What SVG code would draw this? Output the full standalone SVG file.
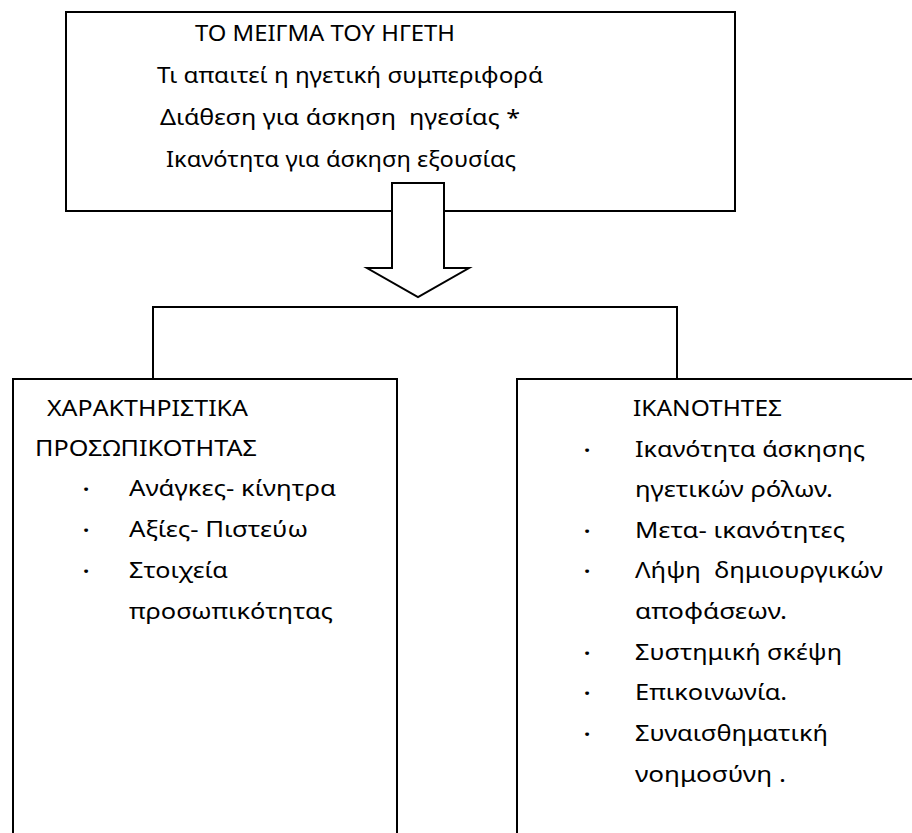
<svg xmlns="http://www.w3.org/2000/svg" width="912" height="833" viewBox="0 0 912 833">
<style>
.box{fill:#fff;stroke:#000;stroke-width:2}
.ln{fill:none;stroke:#000;stroke-width:2}
text{font-family:"Noto Sans","Open Sans","DejaVu Sans",sans-serif;font-size:21.5px;fill:#000;white-space:pre}
.b{font-weight:bold;font-size:22px}
</style>
<rect width="912" height="833" fill="#fff"/>
<g id="top">
<rect class="box" x="66" y="12" width="669" height="199"/>
<text x="195" y="41" textLength="260" lengthAdjust="spacingAndGlyphs">ΤΟ ΜΕΙΓΜΑ ΤΟΥ ΗΓΕΤΗ</text>
<text x="157" y="83" textLength="386" lengthAdjust="spacingAndGlyphs">Τι απαιτεί η ηγετική συμπεριφορά</text>
<text x="160" y="125" textLength="360" lengthAdjust="spacingAndGlyphs" xml:space="preserve">Διάθεση για άσκηση  ηγεσίας *</text>
<text x="166" y="167" textLength="350" lengthAdjust="spacingAndGlyphs">Ικανότητα για άσκηση εξουσίας</text>
</g>
<g id="connectors">
<polygon class="box" points="392,183 444,183 444,268 469,268 418,297 367,268 392,268"/>
<polyline class="ln" points="153,378 153,307 677,307 677,378"/>
</g>
<g id="left">
<rect class="box" x="13" y="379" width="384" height="470"/>
<text x="47" y="416" textLength="201" lengthAdjust="spacingAndGlyphs">ΧΑΡΑΚΤΗΡΙΣΤΙΚΑ</text>
<text x="35" y="456" textLength="222" lengthAdjust="spacingAndGlyphs">ΠΡΟΣΩΠΙΚΟΤΗΤΑΣ</text>
<text class="b" x="83" y="497">·</text>
<text x="129" y="496" textLength="207" lengthAdjust="spacingAndGlyphs">Ανάγκες- κίνητρα</text>
<text class="b" x="83" y="538">·</text>
<text x="129" y="537" textLength="179" lengthAdjust="spacingAndGlyphs">Αξίες- Πιστεύω</text>
<text class="b" x="83" y="579">·</text>
<text x="129" y="578" textLength="99" lengthAdjust="spacingAndGlyphs">Στοιχεία</text>
<text x="129" y="619" textLength="204" lengthAdjust="spacingAndGlyphs">προσωπικότητας</text>
</g>
<g id="right">
<rect class="box" x="517" y="379" width="420" height="470"/>
<text x="633" y="416" textLength="149" lengthAdjust="spacingAndGlyphs">ΙΚΑΝΟΤΗΤΕΣ</text>
<text class="b" x="584" y="458">·</text>
<text x="635" y="457" textLength="230" lengthAdjust="spacingAndGlyphs">Ικανότητα άσκησης</text>
<text x="635" y="497" textLength="198" lengthAdjust="spacingAndGlyphs">ηγετικών ρόλων.</text>
<text class="b" x="584" y="539">·</text>
<text x="635" y="538" textLength="210" lengthAdjust="spacingAndGlyphs">Μετα- ικανότητες</text>
<text class="b" x="584" y="579">·</text>
<text x="635" y="578" textLength="248" lengthAdjust="spacingAndGlyphs" xml:space="preserve">Λήψη  δημιουργικών</text>
<text x="635" y="619" textLength="152" lengthAdjust="spacingAndGlyphs">αποφάσεων.</text>
<text class="b" x="584" y="661">·</text>
<text x="635" y="660" textLength="207" lengthAdjust="spacingAndGlyphs">Συστημική σκέψη</text>
<text class="b" x="584" y="701">·</text>
<text x="635" y="700" textLength="152" lengthAdjust="spacingAndGlyphs">Επικοινωνία.</text>
<text class="b" x="584" y="742">·</text>
<text x="635" y="741" textLength="193" lengthAdjust="spacingAndGlyphs">Συναισθηματική</text>
<text x="635" y="782" textLength="151" lengthAdjust="spacingAndGlyphs">νοημοσύνη .</text>
</g>
</svg>
